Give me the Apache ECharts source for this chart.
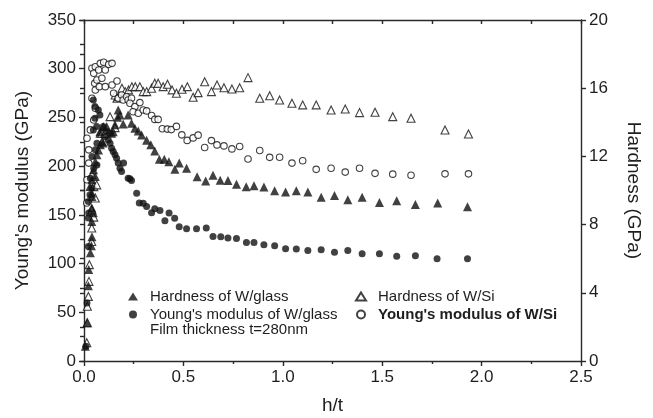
<!DOCTYPE html>
<html><head><meta charset="utf-8">
<script src="https://cdn.jsdelivr.net/npm/echarts@6/dist/echarts.min.js"></script>
<style>html,body{margin:0;padding:0;background:#fff}#c{width:653px;height:418px}</style>
</head><body><div id="c"></div>
<script>
// Hardness of W/Si (open triangles, right axis, GPa)
const hardSi_x = [0.014,0.017,0.017,0.022,0.025,0.027,0.039,0.039,0.049,0.040,0.057,0.049,0.064,0.040,0.082,0.089,0.105,0.131,0.156,0.157,0.166,0.174,0.191,0.207,0.224,0.241,0.258,0.281,0.298,0.315,0.340,0.356,0.373,0.398,0.420,0.443,0.465,0.493,0.520,0.549,0.574,0.607,0.641,0.669,0.704,0.744,0.783,0.825,0.884,0.934,0.984,1.046,1.100,1.168,1.243,1.314,1.386,1.464,1.553,1.645,1.816,1.934];
const hardSi_y = [1.07,2.24,3.21,3.79,4.67,5.65,7.01,7.80,8.44,8.87,9.56,10.23,10.33,10.92,13.36,13.36,13.36,14.33,13.69,15.6,15.41,15.5,16.0,15.8,15.9,16.09,16.09,16.09,15.80,15.80,16.0,16.29,16.29,16.09,16.23,15.9,15.7,15.94,16.09,15.47,15.74,16.38,15.80,16.19,16.03,15.95,16.03,16.62,15.41,15.56,15.31,15.12,15.02,15.02,14.72,14.78,14.57,14.59,14.33,14.24,13.55,13.31];
// Young's modulus of W/Si (open circles, left axis, GPa)
const modSi_x = [0.014,0.015,0.024,0.024,0.015,0.032,0.049,0.057,0.040,0.057,0.054,0.077,0.065,0.090,0.040,0.057,0.049,0.074,0.082,0.099,0.107,0.124,0.141,0.107,0.141,0.149,0.166,0.172,0.189,0.197,0.214,0.222,0.239,0.231,0.256,0.247,0.273,0.281,0.298,0.315,0.340,0.356,0.373,0.394,0.419,0.439,0.465,0.492,0.519,0.549,0.574,0.607,0.641,0.669,0.704,0.744,0.783,0.825,0.884,0.934,0.984,1.046,1.100,1.168,1.243,1.314,1.386,1.464,1.553,1.645,1.816,1.934];
const modSi_y = [162.1,186.0,203.1,216.7,228.7,237.2,247.4,259.4,269.7,278.2,285.0,281.6,288.4,290.2,300.4,302.0,295.3,298.7,305.5,306.6,298.7,304.5,305.5,281.6,283.3,274.8,287.4,269.7,273.0,267.9,271.3,267.9,269.7,264.5,261.1,255.9,254.3,265.2,257.7,256.7,252.0,248.0,248.0,238.4,238.0,237.5,240.8,232.1,226.4,229.0,231.8,219.1,226.2,221.8,220.8,217.7,220.1,207.3,216.0,209.0,209.2,203.1,205.6,196.7,197.9,193.9,197.9,192.6,191.8,190.6,192.1,192.1];
// Hardness of W/glass (filled triangles, right axis, GPa)
const hardGl_x = [0.0065,0.015,0.022,0.024,0.032,0.037,0.040,0.039,0.047,0.039,0.040,0.039,0.030,0.040,0.057,0.048,0.057,0.065,0.073,0.082,0.090,0.097,0.080,0.097,0.114,0.139,0.147,0.156,0.169,0.172,0.181,0.197,0.222,0.239,0.256,0.273,0.290,0.315,0.336,0.356,0.379,0.404,0.427,0.457,0.479,0.516,0.569,0.612,0.649,0.685,0.724,0.767,0.816,0.855,0.905,0.959,1.014,1.068,1.126,1.193,1.260,1.327,1.399,1.486,1.573,1.667,1.779,1.929];
const hardGl_y = [0.87,2.24,4.42,5.36,6.35,6.76,7.29,8.18,8.69,8.99,9.65,9.85,10.23,10.63,10.82,11.21,11.70,12.09,12.38,12.68,12.87,12.78,13.45,13.75,13.75,13.36,13.45,13.85,14.30,14.72,14.43,13.90,14.43,13.95,13.65,13.49,13.26,12.94,12.68,12.32,11.83,11.83,11.68,11.24,11.62,11.31,10.80,10.56,10.90,10.60,10.59,10.37,10.22,10.28,10.20,9.98,9.91,9.98,9.91,9.61,9.71,9.46,9.61,9.29,9.40,9.18,9.26,9.05];
// Young's modulus of W/glass (filled circles, left axis, GPa)
const modGl_x = [0.010,0.015,0.022,0.022,0.024,0.022,0.030,0.040,0.032,0.049,0.065,0.040,0.057,0.065,0.047,0.064,0.055,0.047,0.055,0.072,0.080,0.097,0.114,0.105,0.122,0.132,0.131,0.139,0.147,0.156,0.164,0.172,0.181,0.189,0.199,0.222,0.231,0.239,0.265,0.278,0.298,0.315,0.340,0.356,0.382,0.407,0.428,0.456,0.479,0.516,0.566,0.615,0.649,0.688,0.724,0.767,0.817,0.855,0.905,0.959,1.014,1.068,1.126,1.193,1.260,1.327,1.399,1.486,1.573,1.667,1.776,1.929];
const modGl_y = [15.2,59.6,117.6,146.7,151.8,163.7,170.6,177.5,187.7,197.9,201.3,209.8,216.7,223.6,237.2,240.6,249.2,267.9,261.1,257.7,252.6,240.6,235.5,230.3,226.9,233.8,223.6,218.4,215.0,211.6,208.2,203.1,197.9,194.5,203.1,187.7,187.0,185.2,172.3,162.1,161.8,158.6,152.2,156.3,154.5,144.0,151.8,146.4,137.8,135.8,135.8,136.5,127.9,127.6,126.2,125.8,121.7,121.7,119.4,118.3,115.3,115.0,113.5,114.2,111.5,113.5,110.1,110.1,107.4,108.1,105.0,105.0];

const seriesNames = ['Hardness of W/glass', "Young's modulus of W/glass", 'Hardness of W/Si', "Young's modulus of W/Si"];
const noteText = 'Film thickness t=280nm';
const xTitle = 'h/t', yLeftTitle = "Young's modulus (GPa)", yRightTitle = 'Hardness (GPa)';

const zip = (xs, ys) => xs.map((x, i) => [x, ys[i]]);
const FONT = 'Liberation Sans, Arial, Helvetica, sans-serif';
const TXT = '#1e1e1e';
const AX = '#2a2a2a';

const chart = echarts.init(document.getElementById('c'), null, {renderer: 'canvas'});
const grid = {left: 84, right: 72, top: 20, bottom: 57, outerBoundsMode: 'none', containLabel: false};
const lineStyle = {color: AX, width: 1.4};
const legText = {fontFamily: FONT, fontSize: 15, color: TXT, padding: [0, 0, 0, 7]};
chart.setOption({
  animation: false,
  backgroundColor: '#fff',
  textStyle: {fontFamily: FONT},
  grid: grid,
  title: {text: noteText, left: 150, top: 322, padding: 0,
    textStyle: {fontFamily: FONT, fontSize: 15, fontWeight: 'normal', color: TXT}},
  legend: [
    {data: [seriesNames[0], seriesNames[1]], orient: 'vertical', left: 128, top: 289, padding: 0,
     itemWidth: 10, itemHeight: 8, itemGap: 3, selectedMode: false,
     textStyle: legText},
    {data: [seriesNames[2], seriesNames[3]], orient: 'vertical', left: 355, top: 289, padding: 0,
     itemWidth: 10, itemHeight: 8, itemGap: 3, selectedMode: false,
     formatter: n => n === seriesNames[3] ? '{b|' + n + '}' : n,
     textStyle: Object.assign({}, legText, {
       rich: {b: {fontFamily: FONT, fontSize: 15, fontWeight: 'bold', color: TXT}}})}
  ],
  xAxis: [
    {type: 'value', min: 0, max: 2.5, interval: 0.5, position: 'bottom',
     name: xTitle, nameLocation: 'middle', nameGap: 35,
     nameTextStyle: {fontFamily: FONT, fontSize: 19, color: TXT},
     axisLine: {show: true, onZero: false, lineStyle: lineStyle},
     axisTick: {show: true, inside: false, length: 5, lineStyle: lineStyle},
     minorTick: {show: true, splitNumber: 2, length: 3, lineStyle: lineStyle},
     axisLabel: {fontFamily: FONT, fontSize: 17, color: TXT, margin: 8, formatter: v => v.toFixed(1)},
     splitLine: {show: false}, minorSplitLine: {show: false}},
    {type: 'value', min: 0, max: 2.5, interval: 0.25, position: 'top',
     axisLine: {show: true, onZero: false, lineStyle: lineStyle},
     axisTick: {show: true, inside: true, length: 4, lineStyle: lineStyle},
     axisLabel: {show: false}, splitLine: {show: false}}
  ],
  yAxis: [
    {type: 'value', min: 0, max: 350, interval: 50, position: 'left',
     name: yLeftTitle, nameLocation: 'middle', nameGap: 52, nameRotate: 90,
     nameTextStyle: {fontFamily: FONT, fontSize: 19, color: TXT},
     axisLine: {show: true, onZero: false, lineStyle: lineStyle},
     axisTick: {show: true, inside: false, length: 5, lineStyle: lineStyle},
     minorTick: {show: true, splitNumber: 2, length: 4, lineStyle: lineStyle},
     axisLabel: {fontFamily: FONT, fontSize: 17, color: TXT, margin: 8},
     splitLine: {show: false}, minorSplitLine: {show: false}},
    {type: 'value', min: 0, max: 20, interval: 4, position: 'right',
     name: yRightTitle, nameLocation: 'middle', nameGap: 43, nameRotate: -90,
     nameTextStyle: {fontFamily: FONT, fontSize: 19, color: TXT},
     axisLine: {show: true, onZero: false, lineStyle: lineStyle},
     axisTick: {show: true, inside: false, length: 5, lineStyle: lineStyle},
     axisLabel: {fontFamily: FONT, fontSize: 17, color: TXT, margin: 8},
     splitLine: {show: false}},
    {type: 'value', min: 0, max: 20, interval: 2, position: 'right',
     axisLine: {show: false}, axisTick: {show: true, inside: true, length: 4, lineStyle: lineStyle},
     axisLabel: {show: false}, splitLine: {show: false}}
  ],
  series: [
    {name: seriesNames[2], type: 'scatter', yAxisIndex: 1, symbol: 'triangle', symbolSize: 8,
     itemStyle: {color: '#fff', borderColor: '#111', borderWidth: 1.1}, data: zip(hardSi_x, hardSi_y)},
    {name: seriesNames[3], type: 'scatter', yAxisIndex: 0, symbol: 'circle', symbolSize: 6.5,
     itemStyle: {color: '#fff', borderColor: '#111', borderWidth: 1.1}, data: zip(modSi_x, modSi_y)},
    {name: seriesNames[0], type: 'scatter', yAxisIndex: 1, symbol: 'triangle', symbolSize: 9,
     itemStyle: {color: '#111', borderWidth: 0}, data: zip(hardGl_x, hardGl_y)},
    {name: seriesNames[1], type: 'scatter', yAxisIndex: 0, symbol: 'circle', symbolSize: 7,
     itemStyle: {color: '#111', borderWidth: 0}, data: zip(modGl_x, modGl_y)}
  ]
});
</script></body></html>
